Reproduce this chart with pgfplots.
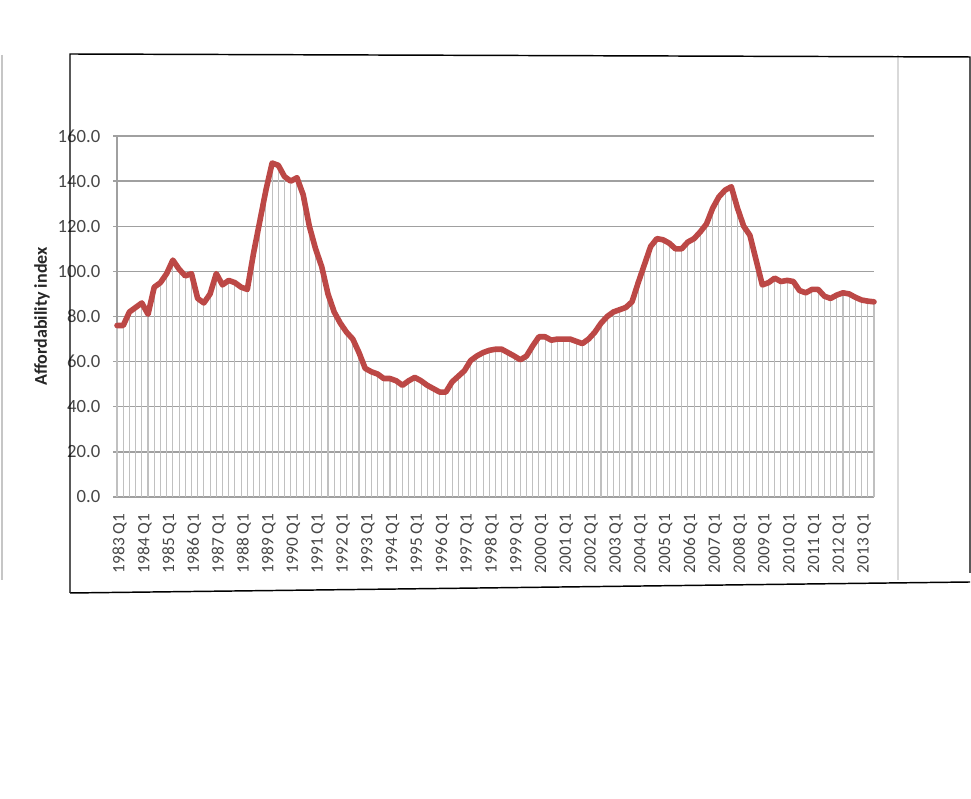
\documentclass[border=0pt]{standalone}
\usepackage{pgfplots}
\pgfplotsset{compat=1.18}
\usepackage{pgfplotstable}
\usepackage{fontspec}
\setmainfont{Carlito}
\definecolor{linered}{RGB}{188,72,70}
\definecolor{gridgray}{RGB}{160,160,160}
\definecolor{dropgray}{RGB}{192,192,192}
\definecolor{labgray}{RGB}{70,70,70}
\pgfplotstableread{
i v
0 76
1 76
2 82
3 84
4 86
5 81
6 93
7 95
8 99
9 105
10 101
11 98
12 99
13 88
14 86
15 90
16 99
17 94
18 96
19 95
20 93
21 92
22 108
23 122
24 136
25 148
26 147
27 142
28 140
29 141.5
30 134
31 120
32 110
33 102
34 90
35 82
36 77
37 73
38 70
39 64
40 57
41 55.5
42 54.5
43 52.5
44 52.5
45 51.5
46 49.5
47 51.5
48 53
49 51.5
50 49.5
51 48
52 46.5
53 46.5
54 51
55 53.5
56 56
57 60.5
58 62.5
59 64
60 65
61 65.5
62 65.5
63 64
64 62.5
65 60.8
66 62.5
67 67
68 71
69 71
70 69.5
71 70
72 70
73 70
74 69
75 68
76 70
77 73
78 77
79 80
80 82
81 83
82 84
83 86.5
84 95
85 103
86 111
87 114.5
88 114
89 112.5
90 110
91 110
92 113
93 114.5
94 117.5
95 121
96 128
97 133
98 136
99 137.5
100 128
101 120
102 116
103 105
104 94
105 95
106 97
107 95.5
108 96
109 95.5
110 91.5
111 90.5
112 92
113 92
114 89
115 88
116 89.5
117 90.5
118 90
119 88.5
120 87.3
121 86.8
122 86.5
}\datatable
\begin{document}
\begin{tikzpicture}
\path[use as bounding box] (0,0) rectangle (728.25pt,599.25pt);
\begin{axis}[
  at={(87.75pt,226.5pt)}, anchor=south west,
  scale only axis, width=567.75pt, height=270.75pt,
  xmin=0, xmax=122, ymin=0, ymax=160,
  axis lines*=left,
  axis line style={gridgray, line width=1pt},
  ytick={0,20,...,160},
  ymajorgrids, grid style={gridgray, line width=1.1pt},
  xtick={0,4,...,120},
  xticklabels={1983 Q1,1984 Q1,1985 Q1,1986 Q1,1987 Q1,1988 Q1,1989 Q1,1990 Q1,1991 Q1,1992 Q1,1993 Q1,1994 Q1,1995 Q1,1996 Q1,1997 Q1,1998 Q1,1999 Q1,2000 Q1,2001 Q1,2002 Q1,2003 Q1,2004 Q1,2005 Q1,2006 Q1,2007 Q1,2008 Q1,2009 Q1,2010 Q1,2011 Q1,2012 Q1,2013 Q1},
  x tick label style={rotate=90, anchor=east, font=\fontsize{13}{15}\selectfont, text=labgray, xshift=-6pt, yshift=-2pt},
  y tick label style={font=\fontsize{14}{16}\selectfont, text=labgray, xshift=-6pt},
  yticklabel style={/pgf/number format/.cd, fixed, fixed zerofill, precision=1},
  /pgf/number format/assume math mode=true,
  major x tick style={draw=none},
  major y tick style={gridgray, line width=1pt},
  tick align=outside, major tick length=3pt,
  ylabel={\bfseries Affordability index},
  ylabel style={font=\fontsize{13.5}{16}\selectfont, text=black!85, at={(axis description cs:-0.099,0.5)}, anchor=center},
  clip=false,
]
\addplot[ycomb, dropgray, line width=0.8pt, mark=none] table[x=i,y=v]{\datatable};
\addplot[linered, line width=4.2pt, mark=none, line join=round, line cap=round] table[x=i,y=v]{\datatable};
\end{axis}
\begin{scope}[x=0.75pt,y=-0.75pt,yshift=599.25pt]
\draw[gray!45, line width=1.5pt] (2,55) -- (2,580);
\draw[gray!30, line width=0.8pt] (898,55) -- (898,580);
\draw[black, line width=1.1pt] (70,593) -- (70,54) -- (970,57) -- (970,573);
\draw[black, line width=1.1pt] (70,593) -- (970,582);
\end{scope}
\end{tikzpicture}
\end{document}
